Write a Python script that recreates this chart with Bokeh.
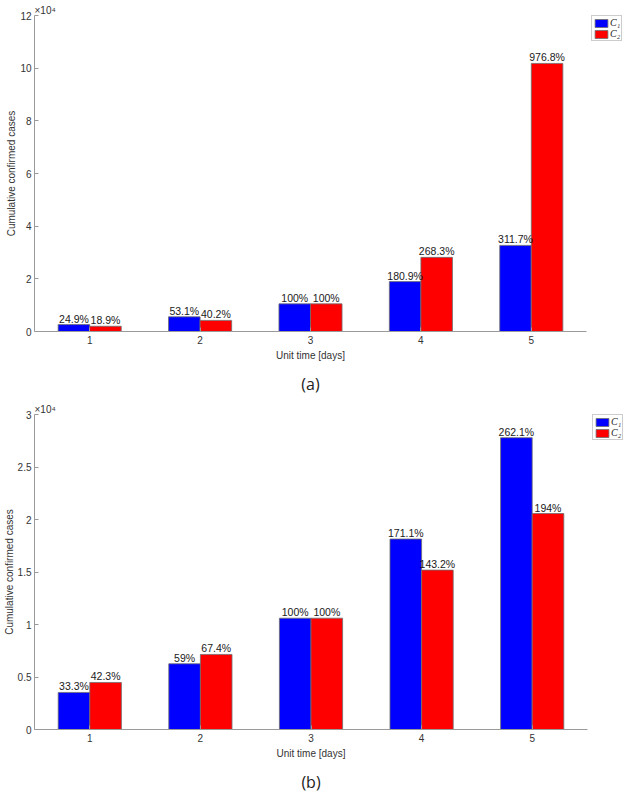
from bokeh.plotting import figure
from bokeh.models import (Range1d, FixedTicker, CustomJSTickFormatter, Legend,
                          LegendItem, ColumnDataSource, Title)
from bokeh.layouts import column
from bokeh.embed import file_html
from bokeh.resources import INLINE
from bokeh.core.properties import value

# ---------------- data ----------------
days = [1, 2, 3, 4, 5]
day_labels = ["1", "2", "3", "4", "5"]

# panel (a)
a_c1 = [2620, 5580, 10500, 18950, 32700]
a_c2 = [1990, 4220, 10500, 28150, 101800]
a_c1_pct = ["24.9%", "53.1%", "100%", "180.9%", "311.7%"]
a_c2_pct = ["18.9%", "40.2%", "100%", "268.3%", "976.8%"]
a_yticks = [0, 20000, 40000, 60000, 80000, 100000, 120000]

# panel (b)
b_c1 = [3530, 6260, 10600, 18140, 27790]
b_c2 = [4480, 7150, 10600, 15180, 20570]
b_c1_pct = ["33.3%", "59%", "100%", "171.1%", "262.1%"]
b_c2_pct = ["42.3%", "67.4%", "100%", "143.2%", "194%"]
b_yticks = [0, 5000, 10000, 15000, 20000, 25000, 30000]

series_names = ["C\u2081", "C\u2082"]
colors = ["#0000ff", "#ff0000"]

FONT = "Liberation Sans"
BAR_W = 0.2857
OFF = 0.1429
LEG_H = 26


def make_panel(c1, c2, p1, p2, yticks, ymax, caption, fw, fh,
               bl, br, bt, bb, cap_dx, cap_standoff):
    p = figure(frame_width=fw, frame_height=fh, output_backend="svg",
               toolbar_location=None, x_range=Range1d(0.5, 5.5),
               y_range=Range1d(0, ymax), min_border_left=bl,
               min_border_right=br, min_border_top=bt, min_border_bottom=bb)
    p.outline_line_color = None
    p.xgrid.visible = False
    p.ygrid.visible = False
    p.background_fill_color = "white"
    p.border_fill_color = "white"

    x1 = [d - OFF for d in days]
    x2 = [d + OFF for d in days]
    s1 = ColumnDataSource(dict(x=x1, top=c1, lab=p1))
    s2 = ColumnDataSource(dict(x=x2, top=c2, lab=p2))
    r1 = p.vbar(x="x", top="top", width=BAR_W, source=s1, fill_color=colors[0],
                line_color="#6e6e6e", line_width=0.8)
    r2 = p.vbar(x="x", top="top", width=BAR_W, source=s2, fill_color=colors[1],
                line_color="#6e6e6e", line_width=0.8)
    for s in (s1, s2):
        p.text(x="x", y="top", text="lab", source=s, text_align="center",
               text_baseline="bottom", y_offset=0,
               text_font=value(FONT), text_font_size="10.5px",
               text_color="#1a1a1a")

    # axes
    for ax in (p.xaxis[0], p.yaxis[0]):
        ax.axis_line_color = "#9a9a9a"
        ax.major_tick_line_color = "#9a9a9a"
        ax.major_tick_in = 4
        ax.major_tick_out = 0
        ax.minor_tick_line_color = None
        ax.major_label_text_font = FONT
        ax.major_label_text_font_size = "10px"
        ax.major_label_text_color = "#333333"
        ax.axis_label_text_font = FONT
        ax.axis_label_text_font_size = "10px"
        ax.axis_label_text_font_style = "normal"
        ax.axis_label_text_color = "#333333"
    p.xaxis.ticker = FixedTicker(ticks=days)
    p.xaxis.major_label_overrides = {d: l for d, l in zip(days, day_labels)}
    p.xaxis.axis_label = "Unit time [days]"
    p.xaxis.major_label_standoff = 4
    p.xaxis.axis_label_standoff = 3
    p.yaxis.ticker = FixedTicker(ticks=yticks)
    p.yaxis.formatter = CustomJSTickFormatter(code="return String(tick/1e4);")
    p.yaxis.major_label_standoff = 3
    p.yaxis.axis_label = "Cumulative confirmed cases"
    p.yaxis.axis_label_standoff = 0

    p.add_layout(Title(text="\u00d710\u2074", align="left", offset=0,
                       standoff=0, text_font=FONT, text_font_size="10px",
                       text_font_style="normal", text_color="#333333"),
                 "above")
    p.add_layout(Title(text=caption, align="center", offset=cap_dx,
                       standoff=cap_standoff, text_font="Open Sans",
                       text_font_size="16px", text_font_style="normal",
                       text_color="#222222"), "below")

    leg = Legend(items=[LegendItem(label=series_names[0], renderers=[r1]),
                        LegendItem(label=series_names[1], renderers=[r2])],
                 padding=1, spacing=0, margin=0, location=(5, fh - LEG_H),
                 glyph_width=16, glyph_height=10, label_height=11,
                 label_width=8, label_standoff=1,
                 label_text_font="Liberation Serif",
                 label_text_font_style="italic",
                 label_text_font_size="10px", label_text_color="#222222",
                 border_line_color="#9a9a9a", border_line_width=1,
                 background_fill_color="white", background_fill_alpha=1.0)
    p.add_layout(leg, "right")
    return p


pa = make_panel(a_c1, a_c2, a_c1_pct, a_c2_pct, a_yticks, 120000, "(a)",
                552, 316, 25, 30, 15, 66, 4, 14)
pb = make_panel(b_c1, b_c2, b_c1_pct, b_c2_pct, b_yticks, 30000, "(b)",
                553, 315, 26, 30, 12, 65, 3, 15)

layout = column(pa, pb, spacing=0)
open("out.html", "w").write(file_html(layout, INLINE))
